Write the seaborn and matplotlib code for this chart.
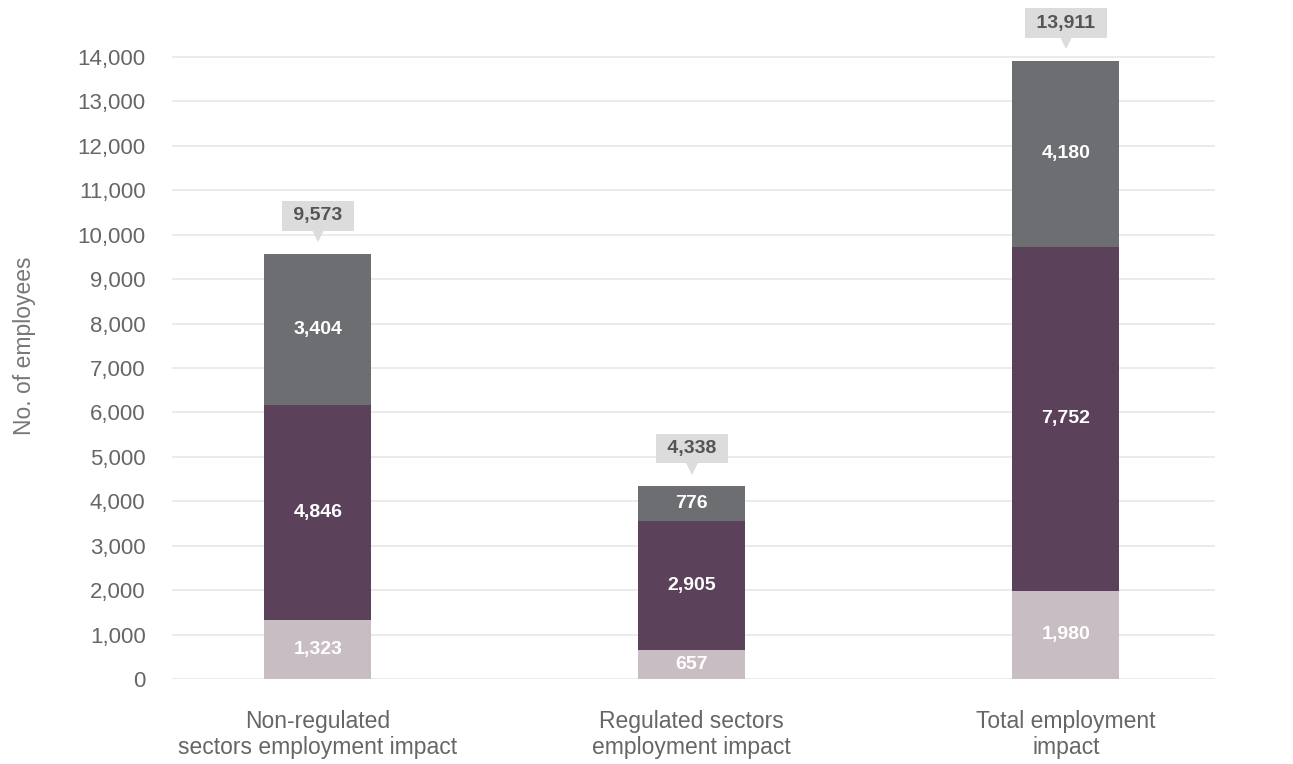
import matplotlib
matplotlib.use("Agg")
import matplotlib.pyplot as plt
from matplotlib.transforms import ScaledTranslation
import seaborn as sns
import pandas as pd
import numpy as np

# Employment impact by category, split into three stacked components
categories = ["Non-regulated\nsectors employment impact",
              "Regulated sectors\nemployment impact",
              "Total employment\nimpact"]
bottom_vals = [1323, 657, 1980]
middle_vals = [4846, 2905, 7752]
top_vals = [3404, 776, 4180]
totals = [9573, 4338, 13911]
y_ticks = list(range(0, 14001, 1000))

colors = {"bottom": "#c8bdc3", "middle": "#5b4159", "top": "#6d6e71"}
callout_bg = "#dcdcdc"

sns.set_theme(style="white")
plt.rcParams["font.family"] = ["Liberation Sans", "DejaVu Sans"]

fig = plt.figure(figsize=(12.93, 7.64), dpi=100)
ax = fig.add_axes([0.133, 0.1113, 0.807, 0.8723])

# cumulative heights, drawn from the tallest down so each layer shows its own band
cum1 = np.array(bottom_vals)
cum2 = cum1 + np.array(middle_vals)
cum3 = cum2 + np.array(top_vals)

bar_width = 0.286
for cum, key in [(cum3, "top"), (cum2, "middle"), (cum1, "bottom")]:
    df = pd.DataFrame({"category": categories, "value": cum})
    sns.barplot(data=df, x="category", y="value", color=colors[key],
                width=bar_width, saturation=1, ax=ax, linewidth=0)

pointer_shift = ScaledTranslation(0, 18.5 / 100, fig.dpi_scale_trans)

for i in range(len(categories)):
    # segment value labels
    segs = [(0, bottom_vals[i]), (cum1[i], middle_vals[i]), (cum2[i], top_vals[i])]
    for start, val in segs:
        ax.text(i, start + val / 2, f"{val:,}", ha="center", va="center",
                color="white", fontsize=14, fontweight="bold")
    # total callout above the bar, with a small pointer underneath
    top = cum3[i]
    ax.annotate(f" {totals[i]:,} ", xy=(i, top), xytext=(0, 21),
                textcoords="offset points", ha="center", va="bottom",
                fontsize=14, fontweight="bold", color="#555555",
                bbox=dict(boxstyle="square,pad=0.32", fc=callout_bg, ec="none"))
    ptr, = ax.plot([i], [top], marker="v", markersize=10, color=callout_bg,
                   markeredgewidth=0, linestyle="none")
    ptr.set_transform(ax.transData + pointer_shift)

ax.set_ylim(0, 15000)
ax.set_xlim(-0.39, 2.40)
ax.set_yticks(y_ticks)
ax.set_yticklabels([f"{t:,}" for t in y_ticks])
ax.yaxis.grid(True, color="#ebebeb", linewidth=1.4)
ax.set_axisbelow(True)
for s in ax.spines.values():
    s.set_visible(False)
ax.tick_params(axis="y", length=0, pad=19, labelsize=16, labelcolor="#666666")
ax.tick_params(axis="x", length=0, pad=22, labelsize=16.5, labelcolor="#666666")
ax.set_xlabel("")
ax.set_ylabel("No. of employees", fontsize=16.5, color="#777777", labelpad=30)

fig.savefig("out.png", dpi=100)
